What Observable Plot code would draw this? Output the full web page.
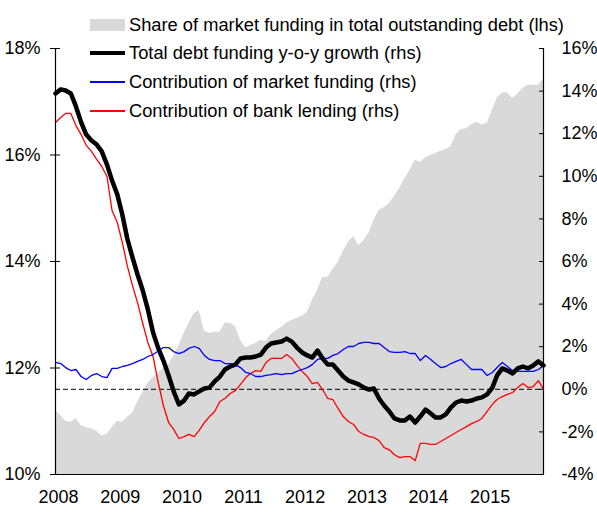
<!DOCTYPE html>
<html>
<head>
<meta charset="utf-8">
<script src="https://cdn.jsdelivr.net/npm/d3@7"></script>
<script src="https://cdn.jsdelivr.net/npm/@observablehq/plot@0.6"></script>
<style>
  html, body { margin: 0; padding: 0; background: #fff; }
  #wrap { position: relative; width: 597px; height: 519px; font-family: Arial, "Liberation Sans", sans-serif; }
  #legend { position: absolute; left: 0; top: 0; width: 597px; height: 130px; pointer-events: none; }
  .row { position: absolute; left: 90px; height: 20px; display: flex; align-items: center; font-size: 18.3px; color: #000; white-space: nowrap; }
  .sw { width: 35px; margin-right: 4px; display: inline-block; flex: none; }
</style>
</head>
<body>
<div id="wrap"><div id="legend"></div></div>
<script>
// ---- data (monthly, Jan 2008 – Dec 2015) ----
const startYear = 2008;
const yearTicks = [2008, 2009, 2010, 2011, 2012, 2013, 2014, 2015];
const leftTicks = [10, 12, 14, 16, 18];          // % (lhs)
const rightTicks = [-4, -2, 0, 2, 4, 6, 8, 10, 12, 14, 16]; // % (rhs)

// Share of market funding in total outstanding debt (lhs, %)
const share = [
  11.20, 11.11, 11.00, 10.98, 11.05, 10.92, 10.88, 10.86, 10.81, 10.73,
  10.75, 10.88, 11.00, 10.98, 11.07, 11.15, 11.35, 11.54, 11.71, 11.82,
  11.90, 11.99, 12.05, 12.23, 12.42, 12.65, 12.84, 13.02, 13.08, 12.70,
  12.65, 12.67, 12.67, 12.84, 12.84, 12.78, 12.52, 12.38, 12.42, 12.46,
  12.52, 12.50, 12.63, 12.70, 12.76, 12.84, 12.89, 12.93, 12.97, 13.04,
  13.27, 13.46, 13.70, 13.70, 13.85, 13.98, 14.19, 14.36, 14.47, 14.30,
  14.39, 14.54, 14.77, 14.96, 15.01, 15.09, 15.22, 15.37, 15.56, 15.71,
  15.90, 15.86, 15.95, 15.99, 16.03, 16.07, 16.10, 16.16, 16.38, 16.48,
  16.50, 16.57, 16.61, 16.57, 16.59, 16.84, 17.06, 17.17, 17.17, 17.06,
  17.14, 17.25, 17.31, 17.31, 17.31, 17.42
];
// Total debt funding y-o-y growth (rhs, %)
const total = [
  13.89, 14.08, 14.03, 13.89, 13.28, 12.53, 11.96, 11.68, 11.49, 11.17,
  10.55, 9.80, 9.15, 8.16, 7.08, 6.19, 5.39, 4.64, 3.75, 2.67,
  1.92, 1.35, 0.65, -0.10, -0.71, -0.53, -0.20, -0.24, -0.10, 0.04,
  0.08, 0.37, 0.60, 0.93, 1.07, 1.16, 1.45, 1.49, 1.49, 1.54,
  1.63, 1.96, 2.15, 2.20, 2.24, 2.38, 2.24, 1.96, 1.73, 1.59,
  1.49, 1.82, 1.45, 1.16, 1.16, 0.88, 0.60, 0.41, 0.32, 0.23,
  0.08, -0.01, 0.04, -0.43, -0.76, -1.04, -1.37, -1.46, -1.46, -1.28,
  -1.56, -1.28, -0.95, -1.14, -1.32, -1.32, -1.18, -0.85, -0.62, -0.53,
  -0.57, -0.53, -0.43, -0.38, -0.24, 0.08, 0.65, 0.98, 0.88, 0.74,
  0.98, 1.07, 0.98, 1.12, 1.31, 1.12
];
// Contribution of market funding (rhs, %)
const market = [
  1.26, 1.21, 1.02, 0.88, 0.93, 0.60, 0.46, 0.65, 0.74, 0.60,
  0.55, 0.98, 0.98, 1.07, 1.12, 1.21, 1.31, 1.40, 1.54, 1.63,
  1.80, 1.96, 1.96, 1.77, 1.68, 1.77, 1.92, 2.01, 1.92, 1.59,
  1.40, 1.35, 1.35, 1.21, 1.21, 1.16, 1.02, 0.79, 0.74, 0.60,
  0.60, 0.65, 0.69, 0.74, 0.69, 0.74, 0.74, 0.84, 0.93, 1.02,
  1.16, 1.40, 1.45, 1.45, 1.59, 1.68, 1.87, 2.01, 2.01, 2.15,
  2.20, 2.20, 2.15, 2.15, 1.96, 1.77, 1.73, 1.73, 1.77, 1.68,
  1.68, 1.35, 1.59, 1.40, 1.21, 1.02, 1.07, 1.21, 1.31, 1.40,
  1.16, 0.93, 0.93, 0.93, 0.65, 0.79, 1.02, 1.26, 1.07, 0.88,
  0.84, 0.84, 0.84, 0.84, 0.93, 1.12
];
// Contribution of bank lending (rhs, %)
const bank = [
  12.53, 12.76, 12.95, 12.95, 12.38, 11.96, 11.45, 11.17, 10.79, 10.46,
  9.99, 8.39, 7.83, 6.85, 5.81, 4.87, 4.07, 3.09, 2.20, 1.54,
  0.30, -0.76, -1.56, -1.88, -2.31, -2.22, -2.12, -2.22, -1.93, -1.56,
  -1.28, -1.04, -0.57, -0.43, -0.20, -0.06, 0.23, 0.55, 0.74, 0.88,
  0.84, 1.26, 1.45, 1.45, 1.45, 1.63, 1.45, 1.12, 0.84, 0.60,
  0.27, 0.32, -0.01, -0.43, -0.48, -0.90, -1.28, -1.51, -1.65, -1.98,
  -2.12, -2.22, -2.26, -2.41, -2.74, -2.84, -3.07, -3.21, -3.16, -3.16,
  -3.35, -2.54, -2.54, -2.59, -2.59, -2.45, -2.31, -2.17, -2.03, -1.89,
  -1.75, -1.61, -1.51, -1.37, -1.04, -0.71, -0.48, -0.34, -0.24, -0.15,
  0.08, 0.27, 0.08, 0.13, 0.41, -0.01
];

const seriesNames = [
  "Share of market funding in total outstanding debt (lhs)",
  "Total debt funding y-o-y growth (rhs)",
  "Contribution of market funding (rhs)",
  "Contribution of bank lending (rhs)"
];

// ---- build ----
const months = share.map((_, i) => new Date(Date.UTC(startYear, i, 1)));
const data = months.map((d, i) => ({date: d, share: share[i], total: total[i], market: market[i], bank: bank[i]}));

// map rhs values onto the lhs scale: [-4,16] -> [10,18]
const rMin = -4, rMax = 16, lMin = 10, lMax = 18;
const toL = r => lMin + (r - rMin) * (lMax - lMin) / (rMax - rMin);
const toR = l => rMin + (l - lMin) * (rMax - rMin) / (lMax - lMin);

const font = "Arial, 'Liberation Sans', sans-serif";
const fs = 18;

const chart = Plot.plot({
  width: 597,
  height: 519,
  marginTop: 48,
  marginRight: 54,
  marginBottom: 45,
  marginLeft: 55,
  style: {fontFamily: font, fontSize: fs + "px", color: "#000", background: "#fff", overflow: "visible"},
  x: {type: "utc", domain: [months[0], months[months.length - 1]], label: null},
  y: {domain: [lMin, lMax], label: null},
  marks: [
    Plot.areaY(data, {x: "date", y1: lMin, y2: "share", fill: "#d9d9d9"}),
    Plot.ruleY([0], {y: d => toL(d), stroke: "#000", strokeWidth: 1, strokeDasharray: "5,3"}),
    Plot.lineY(data, {x: "date", y: d => toL(d.bank), stroke: "#ff0000", strokeWidth: 1.3}),
    Plot.lineY(data, {x: "date", y: d => toL(d.market), stroke: "#0000ff", strokeWidth: 1.3}),
    Plot.lineY(data, {x: "date", y: d => toL(d.total), stroke: "#000", strokeWidth: 4.5, strokeLinejoin: "round"}),
    Plot.ruleX([months[0], months[months.length - 1]], {stroke: "#000", strokeWidth: 1.2}),
    Plot.ruleY([lMin], {stroke: "#000", strokeWidth: 1.2}),
    // left axis: crossing ticks + labels
    Plot.axisY(leftTicks, {anchor: "left", label: null, tickSize: 10, dx: 5, tickFormat: () => "", stroke: "#000"}),
    Plot.axisY(leftTicks, {anchor: "left", label: null, tickSize: 0, tickPadding: 15, tickFormat: d => d + "%", fill: "#000", fontSize: fs}),
    // right axis: inside ticks + labels
    Plot.axisY(rightTicks.map(toL), {anchor: "right", label: null, tickSize: 5, dx: -5, tickFormat: () => "", stroke: "#000"}),
    Plot.axisY(rightTicks.map(toL), {anchor: "right", label: null, tickSize: 0, tickPadding: 18, tickFormat: d => Math.round(toR(d)) + "%", fill: "#000", fontSize: fs}),
    // x axis labels
    Plot.axisX(yearTicks.map(y => new Date(Date.UTC(y, 0, 1))), {label: null, tickSize: 0, tickPadding: 16, dx: 3, tickFormat: d3.utcFormat("%Y"), fill: "#000", fontSize: fs})
  ]
});

document.getElementById("wrap").prepend(chart);

// legend (overlaid at top)
const legend = document.getElementById("legend");
const rowsCenter = [25, 53, 82, 111];
const swatches = [
  '<span class="sw" style="height:12px;background:#d9d9d9"></span>',
  '<span class="sw" style="height:4.5px;background:#000"></span>',
  '<span class="sw" style="height:1.3px;background:#0000ff"></span>',
  '<span class="sw" style="height:1.3px;background:#ff0000"></span>'
];
seriesNames.forEach((name, i) => {
  const row = document.createElement("div");
  row.className = "row";
  row.style.top = (rowsCenter[i] - 10) + "px";
  row.innerHTML = swatches[i] + '<span>' + name + '</span>';
  legend.appendChild(row);
});
</script>
</body>
</html>
